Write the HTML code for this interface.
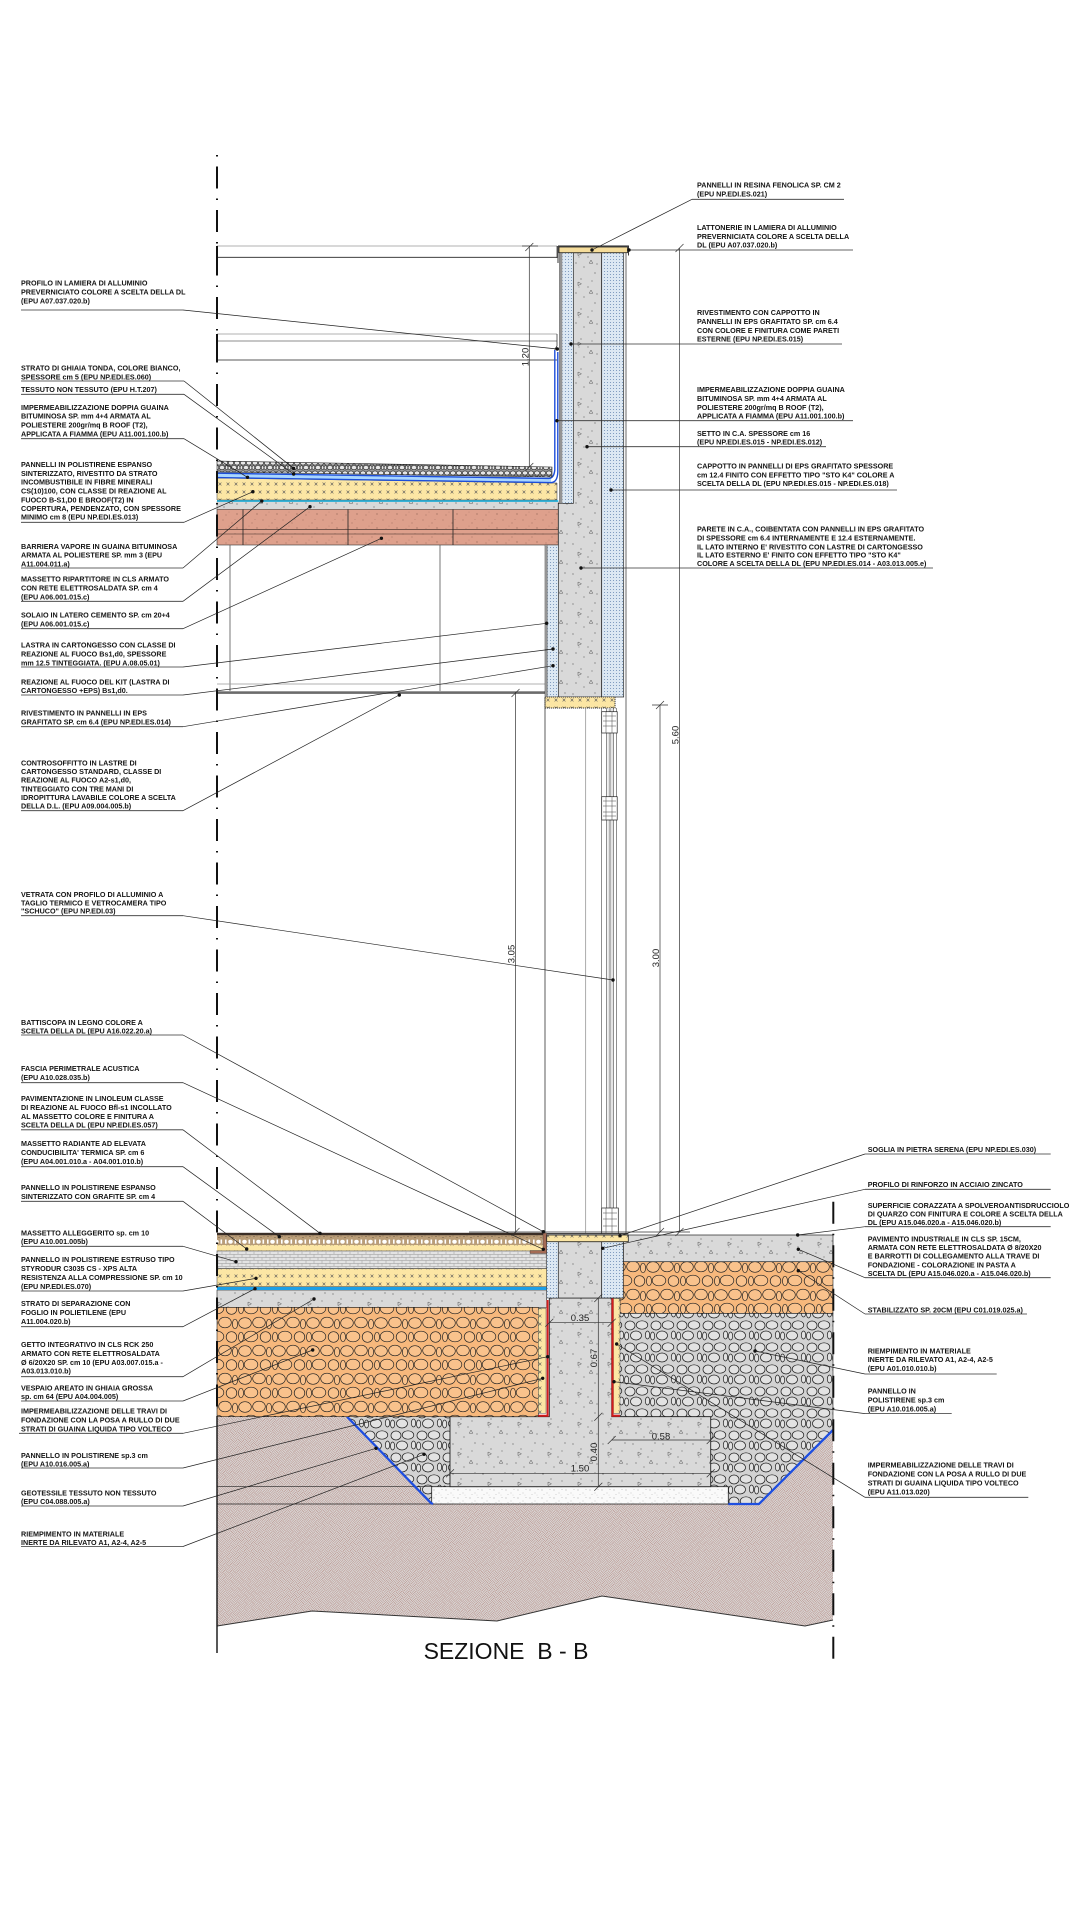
<!DOCTYPE html>
<html><head><meta charset="utf-8"><style>
html,body{margin:0;padding:0;background:#fff;}
svg{display:block;}
text{font-family:"Liberation Sans",Arial,sans-serif;}
.t{font-size:7.2px;font-weight:bold;fill:#141414;}
.d{font-size:9.5px;fill:#222;}
.ul{stroke:#333;stroke-width:.8;fill:none;}
.ld{stroke:#222;stroke-width:.7;fill:none;}
.ln{stroke:#222;stroke-width:.7;fill:none;}
</style></head><body>
<svg width="1080" height="1920" viewBox="0 0 1080 1920" xmlns="http://www.w3.org/2000/svg">
<defs>
<pattern id="soil" width="10" height="10" patternUnits="userSpaceOnUse" patternTransform="rotate(45)">
<rect width="10" height="10" fill="#dddddd"/>
<path d="M0 .8H5M0 2.5H5M0 4.2H5M5.8 0V5M7.5 0V5M9.2 0V5M.8 5V10M2.5 5V10M4.2 5V10M5 5.8H10M5 7.5H10M5 9.2H10" stroke="#a87065" stroke-width=".45"/>
</pattern>
<pattern id="conc" width="30" height="30" patternUnits="userSpaceOnUse">
<rect width="30" height="30" fill="#d9d9d9"/>
<g fill="#333"><circle cx="3" cy="4" r=".55"/><circle cx="11" cy="9" r=".5"/><circle cx="25" cy="3" r=".55"/><circle cx="18" cy="17" r=".5"/><circle cx="6" cy="23" r=".55"/><circle cx="27" cy="24" r=".5"/><circle cx="14" cy="27" r=".5"/><circle cx="22" cy="11" r=".45"/><circle cx="9" cy="17" r=".4"/></g>
<path d="M8 12l3.5 1.8-3.5 1.8zM21 20l-1.8 3.2h3.6z" fill="none" stroke="#555" stroke-width=".5"/>
</pattern>
<pattern id="eps" width="3" height="3" patternUnits="userSpaceOnUse"><rect width="3" height="3" fill="#dce8f3"/><circle cx="1.5" cy="1.5" r=".55" fill="#6b8bb3"/></pattern>
<pattern id="dd" width="2" height="2" patternUnits="userSpaceOnUse"><rect width="2" height="2" fill="#bbb"/><circle cx="1" cy="1" r=".6" fill="#333"/></pattern>
<pattern id="yx" width="8" height="8" patternUnits="userSpaceOnUse"><rect width="8" height="8" fill="#fce6a4"/><path d="M2.6 2.6l2.8 2.8M5.4 2.6l-2.8 2.8" stroke="#555" stroke-width=".6"/></pattern>
<pattern id="pink" width="20" height="14" patternUnits="userSpaceOnUse"><rect width="20" height="14" fill="#dea08c"/><g fill="#5a3a30"><circle cx="3" cy="2" r=".4"/><circle cx="12" cy="5" r=".4"/><circle cx="17" cy="10" r=".45"/><circle cx="6" cy="11" r=".4"/><circle cx="9" cy="8" r=".3"/><circle cx="15" cy="1.5" r=".3"/></g></pattern>
<pattern id="og" width="34" height="28" patternUnits="userSpaceOnUse">
<rect width="34" height="28" fill="#f7b87c"/>
<g fill="#f9c28c" stroke="#222" stroke-width=".7">
<ellipse cx="7" cy="7" rx="6.3" ry="5.3"/><ellipse cx="21" cy="6.5" rx="6.3" ry="5.3"/><ellipse cx="31" cy="8" rx="2.6" ry="4.8"/>
<ellipse cx="13" cy="20.5" rx="6.8" ry="5.3"/><ellipse cx="27.5" cy="21" rx="5.3" ry="5.3"/><ellipse cx="3" cy="21" rx="2.5" ry="4.8"/>
</g></pattern>
<pattern id="pg" width="26" height="22" patternUnits="userSpaceOnUse">
<rect width="26" height="22" fill="#d2d2d2"/>
<g fill="#e2e2e2" stroke="#1e1e1e" stroke-width=".7">
<ellipse cx="6" cy="5.5" rx="5" ry="4.5"/><ellipse cx="18" cy="5" rx="5.8" ry="4.2"/>
<ellipse cx="12" cy="15.5" rx="5.5" ry="4.5"/><ellipse cx="23.5" cy="15" rx="2.2" ry="4"/><ellipse cx="2.6" cy="16" rx="2.1" ry="4"/>
</g></pattern>
<pattern id="rg" width="12" height="10" patternUnits="userSpaceOnUse">
<rect width="12" height="10" fill="#9a9a9a"/>
<g fill="#e6e6e6" stroke="#222" stroke-width=".6">
<ellipse cx="3" cy="3" rx="2.7" ry="2.1"/><ellipse cx="9" cy="3" rx="2.7" ry="2.1"/><ellipse cx="6" cy="7.6" rx="2.7" ry="2.1"/><ellipse cx="1.4" cy="7.6" rx="1.3" ry="1.9"/><ellipse cx="10.6" cy="7.6" rx="1.3" ry="1.9"/>
</g></pattern>
<pattern id="xh" width="8" height="6" patternUnits="userSpaceOnUse"><rect width="8" height="6" fill="#e3e3e3"/><path d="M0 .5H8M0 3.5H8M2 .5V3.5M6 3.5V6.5" stroke="#8c8c8c" stroke-width=".45"/></pattern>
<pattern id="mg" width="12" height="8" patternUnits="userSpaceOnUse"><rect width="12" height="8" fill="#fafafa"/><g fill="#8a8a8a"><circle cx="2" cy="2" r=".45"/><circle cx="7" cy="5" r=".4"/><circle cx="10" cy="1.5" r=".4"/><circle cx="4" cy="6.5" r=".35"/><circle cx="9" cy="7" r=".3"/></g></pattern>
<pattern id="iol" x="0" y="1235" width="14" height="10" patternUnits="userSpaceOnUse">
<rect width="14" height="10" fill="#b99d78"/>
<g fill="#4a3a2a"><circle cx="2" cy="1.5" r=".45"/><circle cx="9" cy="2.5" r=".45"/><circle cx="5" cy="1" r=".35"/><circle cx="12" cy="1.2" r=".35"/></g>
<g fill="#fff"><rect x="1" y="4.5" width="1.6" height="4.2"/><ellipse cx="6.5" cy="6.7" rx="2.3" ry="2"/><rect x="10.5" y="4.5" width="1.6" height="4.2"/></g>
</pattern>
</defs>

<rect width="1080" height="1920" fill="#fff"/>

<!-- ===== SOIL & FOUNDATION ===== -->
<polygon points="217,1416.7 833,1416.7 833,1620 805,1626 602,1596 497,1621 312,1611 217,1626" fill="url(#soil)"/>
<polyline points="217,1626 312,1611 497,1621 602,1596 805,1626 833,1620" fill="none" stroke="#333" stroke-width="1"/>
<polygon points="347,1416.7 450,1416.7 450,1504 432,1504" fill="url(#pg)" stroke="#222" stroke-width=".6"/>
<polygon points="611.7,1313.3 833,1313.3 833,1430 759,1504 710.7,1504 710.7,1416.7 611.7,1416.7" fill="url(#pg)" stroke="#222" stroke-width=".6"/>
<rect x="431.7" y="1486.7" width="296.6" height="17.3" fill="url(#mg)" stroke="#222" stroke-width=".8"/>
<line x1="217" y1="1486.7" x2="431.7" y2="1486.7" class="ln"/>
<line x1="217" y1="1504" x2="431.7" y2="1504" class="ln"/>
<polygon points="549.3,1298 611.7,1298 611.7,1416.7 710.7,1416.7 710.7,1486.7 450,1486.7 450,1416.7 549.3,1416.7" fill="url(#conc)" stroke="#222" stroke-width=".9"/>
<polyline points="347,1416.7 431,1503 433,1504" fill="none" stroke="#1f4fe0" stroke-width="2.3"/>
<polyline points="728.3,1504 759,1504 833,1430" fill="none" stroke="#1f4fe0" stroke-width="2.3"/>

<rect x="217" y="1307.3" width="321.3" height="109.4" fill="url(#og)" stroke="#222" stroke-width=".6"/>
<rect x="620" y="1261.7" width="213" height="51.6" fill="url(#og)" stroke="#222" stroke-width=".6"/>
<rect x="623.3" y="1235" width="209.7" height="26.7" fill="url(#conc)" stroke="#222" stroke-width=".7"/>

<rect x="217" y="1290" width="329.7" height="17.3" fill="url(#conc)" stroke="#222" stroke-width=".6"/>
<rect x="217" y="1286.7" width="329.7" height="3.3" fill="#1e9fe6"/>
<rect x="217" y="1268.5" width="329.7" height="18.2" fill="url(#yx)" stroke="#333" stroke-width=".5"/>
<rect x="217" y="1250.7" width="329.7" height="17.8" fill="url(#xh)" stroke="#333" stroke-width=".5"/>
<rect x="217" y="1245" width="326" height="5.7" fill="url(#yx)"/>
<rect x="217" y="1235" width="326" height="10" fill="url(#iol)"/>
<rect x="217" y="1232.8" width="326" height="2.4" fill="#3a2e26"/>
<path d="M543 1233 H546.7 V1253.5 H530 V1250.5 H543 Z" fill="#a46b55" stroke="#333" stroke-width=".4"/>

<rect x="538.3" y="1308.3" width="7.7" height="105" fill="url(#yx)" stroke="#333" stroke-width=".4"/>
<path d="M547.6 1300 V1415.7 H538.3" fill="none" stroke="#d41d1d" stroke-width="2"/>
<rect x="613.5" y="1298.5" width="6.5" height="114.8" fill="url(#yx)" stroke="#333" stroke-width=".4"/>
<path d="M612.5 1298 V1415.7 H620" fill="none" stroke="#d41d1d" stroke-width="2"/>

<rect x="546.7" y="1241.7" width="11.6" height="56.3" fill="url(#eps)" stroke="#333" stroke-width=".5"/>
<rect x="558.3" y="1241.7" width="43.4" height="56.3" fill="url(#conc)" stroke="#222" stroke-width=".7"/>
<rect x="601.7" y="1241.7" width="21.6" height="56.3" fill="url(#eps)" stroke="#222" stroke-width=".7"/>
<rect x="546.7" y="1235" width="81.6" height="6.7" fill="url(#yx)" stroke="#222" stroke-width=".8"/>
<line x1="546.7" y1="1233.6" x2="628.3" y2="1233.6" stroke="#444" stroke-width="1.2"/>

<!-- ===== ROOF ===== -->
<line x1="217" y1="246" x2="557" y2="246" stroke="#999" stroke-width=".8"/>
<line x1="217" y1="257.3" x2="557" y2="257.3" stroke="#222" stroke-width=".8"/>
<line x1="217" y1="334" x2="557" y2="334" stroke="#999" stroke-width=".8"/>
<line x1="217" y1="341" x2="557" y2="341" stroke="#666" stroke-width=".7"/>
<line x1="217" y1="360" x2="557" y2="360" stroke="#222" stroke-width=".8"/>
<path d="M557 246V258M557 334V346L555 349V360" class="ln"/>
<path d="M217 246V259M217 334V361" stroke="#111" stroke-width="2"/>

<rect x="217" y="509.3" width="341.3" height="35.7" fill="url(#pink)" stroke="#333" stroke-width=".6"/>
<path d="M217 529.3H558.3M217 534H558.3" stroke="#3a2a25" stroke-width=".6"/>
<path d="M243 509.3V545M348 509.3V545M453 509.3V545" stroke="#222" stroke-width=".8"/>
<rect x="217" y="501.7" width="341.3" height="7.6" fill="url(#conc)" stroke="#444" stroke-width=".4"/>
<rect x="217" y="500" width="341.3" height="1.8" fill="#2fc6f2"/>
<polygon points="217,478 552,483 557,483 557,500 217,500" fill="url(#yx)" stroke="#333" stroke-width=".5"/>
<polygon points="217,472.5 551,477.6 551,483 217,478" fill="#a9d6ff"/>
<path d="M217 473.2 L549 478.4 Q554 478 554.8 470 V350" fill="none" stroke="#1d4ed8" stroke-width="1.4"/>
<path d="M217 477.6 L550 482.6 Q557.5 483 557.8 472 V352" fill="none" stroke="#1d4ed8" stroke-width="1.4"/>
<polygon points="217,461 552,467 552,477 217,472" fill="url(#rg)" stroke="#222" stroke-width=".6"/>

<path d="M230 545V691M440 545V691" stroke="#555" stroke-width=".8"/>
<line x1="217" y1="684" x2="545" y2="684" stroke="#999" stroke-width=".7"/>
<rect x="217" y="691.3" width="328" height="2.6" fill="#6b6b6b"/>

<!-- ===== WALL ===== -->
<polygon points="573.3,252.7 601.7,252.7 601.7,697 558.3,697 558.3,503.3 573.3,503.3" fill="url(#conc)" stroke="#222" stroke-width=".8"/>
<rect x="601.7" y="252.7" width="22" height="444.3" fill="url(#eps)" stroke="#222" stroke-width=".7"/>
<rect x="559.3" y="252.7" width="14" height="250.6" fill="url(#eps)" stroke="#333" stroke-width=".5"/>
<rect x="559.3" y="252.7" width="3.2" height="250.6" fill="url(#dd)"/>
<rect x="545" y="545" width="13.3" height="152" fill="url(#eps)" stroke="#333" stroke-width=".5"/>
<rect x="545" y="545" width="2.6" height="152" fill="url(#dd)"/>
<line x1="626" y1="252" x2="626" y2="1235" stroke="#444" stroke-width=".8"/>
<rect x="559" y="247" width="68.5" height="5.7" fill="#f5dc9a" stroke="#222" stroke-width=".8"/>
<path d="M558 246H628.5V255.5M558 246V263" fill="none" stroke="#222" stroke-width=".9"/>
<rect x="545" y="697" width="70" height="11" fill="url(#yx)" stroke="#333" stroke-width="1" stroke-dasharray="1.2 .8"/>

<line x1="545" y1="697" x2="545" y2="1233" stroke="#333" stroke-width=".8"/>
<line x1="585.7" y1="708" x2="585.7" y2="1233" stroke="#888" stroke-width=".7"/>
<rect x="607.5" y="708" width="5.8" height="500" fill="#e4e4e4"/>
<path d="M601.7 708V1233M606.7 708V1210M610 708V1210M613.3 708V1210M616.7 708V1233" stroke="#444" stroke-width=".6"/>
<g fill="#fff" stroke="#222" stroke-width=".7">
<rect x="601.7" y="711.7" width="15.5" height="21.3"/>
<rect x="601.7" y="796.7" width="15.5" height="23.3"/>
<rect x="601.7" y="1208" width="16.6" height="25.5"/>
</g>
<path d="M603 716h13M603 721h13M603 726h13M606 712v21M612 712v21M603 801h13M603 806h13M603 812h13M603 816h13M606 797v23M612 797v23M603 1213h14M603 1219h14M603 1226h14M606 1208v25M612 1208v25" stroke="#444" stroke-width=".5"/>

<!-- ===== AXES ===== -->
<line x1="217" y1="153" x2="217" y2="1416" stroke="#111" stroke-width="2" stroke-dasharray="22 10 1.5 10" stroke-dashoffset="30"/>
<line x1="217" y1="1416" x2="217" y2="1653" stroke="#111" stroke-width="1.4"/>
<line x1="833.3" y1="1201.7" x2="833.3" y2="1660" stroke="#111" stroke-width="2" stroke-dasharray="22 10 1.5 10"/>

<!-- ===== DIMENSIONS ===== -->
<g stroke="#333" stroke-width=".7" fill="none">
<path d="M529.3 246V467M515.5 692V1233M660 705V1232M679.5 248V1232"/>
<path d="M525.3 251l8-8M525.3 471l8-8M511.5 697l8-8M511.5 1236l8-8M656 709l8-8M656 1236l8-8M675.5 252l8-8M675.5 1236l8-8"/>
<path d="M522 246H538M652 705H668M469 1232H690"/>
<path d="M549.3 1322.7H611.7M598.3 1298V1486.7M611.7 1440H710.7M450 1473.3H710.7"/>
<path d="M545.3 1326.7l8-8M607.7 1326.7l8-8M594.3 1302l8-8M594.3 1420.7l8-8M594.3 1490.7l8-8M607.7 1444l8-8M706.7 1444l8-8M446 1477.3l8-8M706.7 1477.3l8-8"/>
</g>
<g class="d">
<text transform="translate(528.5,357) rotate(-90)" text-anchor="middle">1.20</text>
<text transform="translate(514.5,954) rotate(-90)" text-anchor="middle">3.05</text>
<text transform="translate(659,958) rotate(-90)" text-anchor="middle">3.00</text>
<text transform="translate(678.5,735) rotate(-90)" text-anchor="middle">5.60</text>
<text transform="translate(597,1358) rotate(-90)" text-anchor="middle">0.67</text>
<text transform="translate(597,1452) rotate(-90)" text-anchor="middle">0.40</text>
<text x="580" y="1321" text-anchor="middle">0.35</text>
<text x="661" y="1439.5" text-anchor="middle">0.58</text>
<text x="580" y="1471.5" text-anchor="middle">1.50</text>
</g>

<!-- ===== LEFT LABELS ===== -->
<g class="t">
<text x="21" y="285.3">PROFILO IN LAMIERA DI ALLUMINIO</text>
<text x="21" y="294.3">PREVERNICIATO COLORE A SCELTA DELLA DL</text>
<text x="21" y="303.3">(EPU A07.037.020.b)</text>
<text x="21" y="370.3">STRATO DI GHIAIA TONDA, COLORE BIANCO,</text>
<text x="21" y="379.3">SPESSORE cm 5 (EPU NP.EDI.ES.060)</text>
<text x="21" y="391.9">TESSUTO NON TESSUTO (EPU H.T.207)</text>
<text x="21" y="409.9">IMPERMEABILIZZAZIONE DOPPIA GUAINA</text>
<text x="21" y="418.6">BITUMINOSA SP. mm 4+4 ARMATA AL</text>
<text x="21" y="427.6">POLIESTERE 200gr/mq B ROOF (T2),</text>
<text x="21" y="436.6">APPLICATA A FIAMMA (EPU A11.001.100.b)</text>
<text x="21" y="466.9">PANNELLI IN POLISTIRENE ESPANSO</text>
<text x="21" y="475.9">SINTERIZZATO, RIVESTITO DA STRATO</text>
<text x="21" y="484.6">INCOMBUSTIBILE IN FIBRE MINERALI</text>
<text x="21" y="493.3">CS(10)100, CON CLASSE DI REAZIONE AL</text>
<text x="21" y="502.3">FUOCO B-S1,D0 E BROOF(T2) IN</text>
<text x="21" y="510.9">COPERTURA, PENDENZATO, CON SPESSORE</text>
<text x="21" y="519.6">MINIMO cm 8 (EPU NP.EDI.ES.013)</text>
<text x="21" y="548.9">BARRIERA VAPORE IN GUAINA BITUMINOSA</text>
<text x="21" y="557.6">ARMATA AL POLIESTERE SP. mm 3  (EPU</text>
<text x="21" y="566.3">A11.004.011.a)</text>
<text x="21" y="581.6">MASSETTO RIPARTITORE IN CLS ARMATO</text>
<text x="21" y="590.3">CON RETE ELETTROSALDATA SP. cm 4</text>
<text x="21" y="599.3">(EPU A06.001.015.c)</text>
<text x="21" y="617.6">SOLAIO IN LATERO CEMENTO SP. cm 20+4</text>
<text x="21" y="626.3">(EPU A06.001.015.c)</text>
<text x="21" y="647.6">LASTRA IN CARTONGESSO CON CLASSE DI</text>
<text x="21" y="656.3">REAZIONE AL FUOCO Bs1,d0, SPESSORE</text>
<text x="21" y="665.3">mm 12.5 TINTEGGIATA. (EPU A.08.05.01)</text>
<text x="21" y="684.3">REAZIONE AL FUOCO DEL KIT (LASTRA DI</text>
<text x="21" y="692.9">CARTONGESSO +EPS) Bs1,d0.</text>
<text x="21" y="715.3">RIVESTIMENTO IN PANNELLI IN EPS</text>
<text x="21" y="724.3">GRAFITATO SP. cm 6.4 (EPU NP.EDI.ES.014)</text>
<text x="21" y="765.3">CONTROSOFFITTO IN LASTRE DI</text>
<text x="21" y="773.9">CARTONGESSO STANDARD, CLASSE DI</text>
<text x="21" y="782.6">REAZIONE AL FUOCO A2-s1,d0,</text>
<text x="21" y="791.3">TINTEGGIATO CON TRE MANI DI</text>
<text x="21" y="799.9">IDROPITTURA LAVABILE COLORE A SCELTA</text>
<text x="21" y="808.3">DELLA D.L. (EPU A09.004.005.b)</text>
<text x="21" y="896.9">VETRATA CON PROFILO DI ALLUMINIO A</text>
<text x="21" y="905.3">TAGLIO TERMICO E VETROCAMERA TIPO</text>
<text x="21" y="913.6">"SCHUCO" (EPU NP.EDI.03)</text>
<text x="21" y="1024.9">BATTISCOPA IN LEGNO COLORE A</text>
<text x="21" y="1033.6">SCELTA DELLA DL (EPU A16.022.20.a)</text>
<text x="21" y="1070.9">FASCIA PERIMETRALE ACUSTICA</text>
<text x="21" y="1079.9">(EPU A10.028.035.b)</text>
<text x="21" y="1100.9">PAVIMENTAZIONE IN LINOLEUM CLASSE</text>
<text x="21" y="1109.9">DI REAZIONE AL FUOCO Bfl-s1 INCOLLATO</text>
<text x="21" y="1118.9">AL MASSETTO COLORE E FINITURA A</text>
<text x="21" y="1127.6">SCELTA DELLA DL (EPU NP.EDI.ES.057)</text>
<text x="21" y="1145.9">MASSETTO RADIANTE AD ELEVATA</text>
<text x="21" y="1154.9">CONDUCIBILITA' TERMICA SP. cm 6</text>
<text x="21" y="1163.9">(EPU A04.001.010.a - A04.001.010.b)</text>
<text x="21" y="1189.9">PANNELLO IN POLISTIRENE ESPANSO</text>
<text x="21" y="1198.9">SINTERIZZATO CON GRAFITE SP. cm 4</text>
<text x="21" y="1235.3">MASSETTO ALLEGGERITO sp. cm 10</text>
<text x="21" y="1244.1">(EPU A10.001.005b)</text>
<text x="21" y="1261.9">PANNELLO IN POLISTIRENE ESTRUSO TIPO</text>
<text x="21" y="1270.9">STYRODUR C3035 CS - XPS ALTA</text>
<text x="21" y="1279.9">RESISTENZA ALLA COMPRESSIONE SP. cm 10</text>
<text x="21" y="1288.9">(EPU NP.EDI.ES.070)</text>
<text x="21" y="1305.9">STRATO DI SEPARAZIONE CON</text>
<text x="21" y="1314.9">FOGLIO IN POLIETILENE (EPU</text>
<text x="21" y="1323.9">A11.004.020.b)</text>
<text x="21" y="1346.9">GETTO INTEGRATIVO IN CLS RCK 250</text>
<text x="21" y="1355.9">ARMATO CON RETE ELETTROSALDATA</text>
<text x="21" y="1364.9">Ø 6/20X20 SP. cm 10 (EPU A03.007.015.a -</text>
<text x="21" y="1373.3">A03.013.010.b)</text>
<text x="21" y="1390.3">VESPAIO AREATO  IN GHIAIA GROSSA</text>
<text x="21" y="1399.1">sp. cm 64 (EPU A04.004.005)</text>
<text x="21" y="1413.6">IMPERMEABILIZZAZIONE DELLE TRAVI DI</text>
<text x="21" y="1422.6">FONDAZIONE CON LA POSA A RULLO DI DUE</text>
<text x="21" y="1431.3">STRATI DI GUAINA LIQUIDA TIPO VOLTECO</text>
<text x="21" y="1458.1">PANNELLO IN POLISTIRENE sp.3 cm</text>
<text x="21" y="1466.3">(EPU A10.016.005.a)</text>
<text x="21" y="1495.3">GEOTESSILE TESSUTO NON TESSUTO</text>
<text x="21" y="1504">(EPU C04.088.005.a)</text>
<text x="21" y="1536.6">RIEMPIMENTO IN MATERIALE</text>
<text x="21" y="1545">INERTE DA RILEVATO A1, A2-4, A2-5</text>
</g>
<g class="ul">
<path d="M21 310H183M21 381H184M21 394.3H184M21 438.7H184M21 522.3H184M21 568H183M21 601.3H183M21 628.7H183M21 667H183M21 695H183M21 726.7H183M21 810.7H183M21 915.7H183M21 1035H183M21 1082.7H183M21 1129.8H183M21 1166.7H183M21 1201.3H183M21 1246.3H183M21 1291H183M21 1326.7H183M21 1376.7H183M21 1401H183M19 1433.3H183M21 1468H183M21 1506H183M21 1546.5H183"/>
</g>
<g class="ld">
<path d="M183 310L557.3 349M184 381L293.6 468.3M184 394.3L293.6 474M184 438.7L247.5 477.3M184 522.3L252.9 491.7M183 568L261.8 501M183 601.3L310 506.7M183 628.7L381.4 538.3M183 667L546.7 623.3M183 695L553 649M183 726.7L553 665.7M183 810.7L399.3 695M183 915.7L613 980M183 1035L543.3 1231.7M183 1082.7L543.3 1249.3M183 1129.8L320 1233.3M183 1166.7L279.3 1236.7M183 1201.3L246.7 1249M183 1246.3L236 1261.7M183 1291L256 1278.3M183 1326.7L255 1288.7M183 1376.7L314 1299M183 1401L312.7 1350M183 1433.3L547.7 1356.7M183 1468L542.7 1378.3M183 1506L376 1448.3M183 1546.5L424 1454.3"/>
</g>

<!-- ===== RIGHT LABELS (upper) ===== -->
<g class="t">
<text x="697" y="187.6">PANNELLI IN RESINA FENOLICA SP. CM 2</text>
<text x="697" y="196.6">(EPU NP.EDI.ES.021)</text>
<text x="697" y="229.9">LATTONERIE IN LAMIERA DI ALLUMINIO</text>
<text x="697" y="238.9">PREVERNICIATA COLORE A SCELTA DELLA</text>
<text x="697" y="247.7">DL (EPU A07.037.020.b)</text>
<text x="697" y="314.9">RIVESTIMENTO CON CAPPOTTO IN</text>
<text x="697" y="323.9">PANNELLI IN EPS GRAFITATO SP. cm 6.4</text>
<text x="697" y="332.9">CON COLORE E FINITURA COME PARETI</text>
<text x="697" y="341.3">ESTERNE (EPU NP.EDI.ES.015)</text>
<text x="697" y="391.9">IMPERMEABILIZZAZIONE DOPPIA GUAINA</text>
<text x="697" y="400.9">BITUMINOSA SP. mm 4+4 ARMATA AL</text>
<text x="697" y="409.9">POLIESTERE 200gr/mq B ROOF (T2),</text>
<text x="697" y="418.4">APPLICATA A FIAMMA  (EPU A11.001.100.b)</text>
<text x="697" y="435.9">SETTO IN C.A. SPESSORE cm 16</text>
<text x="697" y="444.7">(EPU NP.EDI.ES.015 - NP.EDI.ES.012)</text>
<text x="697" y="468.6">CAPPOTTO IN PANNELLI DI EPS GRAFITATO SPESSORE</text>
<text x="697" y="477.6">cm 12.4 FINITO  CON EFFETTO TIPO "STO K4" COLORE A</text>
<text x="697" y="486.1">SCELTA DELLA DL (EPU NP.EDI.ES.015 - NP.EDI.ES.018)</text>
<text x="697" y="531.6">PARETE IN C.A., COIBENTATA CON PANNELLI IN EPS GRAFITATO</text>
<text x="697" y="540.6">DI SPESSORE cm 6.4 INTERNAMENTE E 12.4 ESTERNAMENTE.</text>
<text x="697" y="549.3">IL LATO INTERNO E' RIVESTITO CON LASTRE DI CARTONGESSO</text>
<text x="697" y="557.6">IL LATO ESTERNO E' FINITO  CON EFFETTO TIPO "STO K4"</text>
<text x="697" y="566">COLORE A SCELTA DELLA DL  (EPU NP.EDI.ES.014 - A03.013.005.e)</text>
</g>
<g class="ul">
<path d="M692 199.3H844M629 250H853M571 344H842M557 420.7H853M587 446.7H826M611 490H897M581 568H933"/>
</g>
<path d="M692 199.3L592 250" class="ld"/>

<!-- ===== RIGHT LABELS (lower) ===== -->
<g class="t">
<text x="867.7" y="1151.9">SOGLIA IN PIETRA SERENA (EPU NP.EDI.ES.030)</text>
<text x="867.7" y="1186.9">PROFILO DI RINFORZO IN ACCIAIO ZINCATO</text>
<text x="867.7" y="1207.9">SUPERFICIE CORAZZATA A SPOLVEROANTISDRUCCIOLO</text>
<text x="867.7" y="1216.6">DI QUARZO CON FINITURA E COLORE A SCELTA DELLA</text>
<text x="867.7" y="1225">DL (EPU A15.046.020.a - A15.046.020.b)</text>
<text x="867.7" y="1241.3">PAVIMENTO INDUSTRIALE IN CLS SP. 15CM,</text>
<text x="867.7" y="1249.9">ARMATA CON RETE ELETTROSALDATA Ø 8/20X20</text>
<text x="867.7" y="1258.6">E BARROTTI DI COLLEGAMENTO ALLA TRAVE DI</text>
<text x="867.7" y="1267.3">FONDAZIONE - COLORAZIONE IN PASTA A</text>
<text x="867.7" y="1275.9">SCELTA DL (EPU A15.046.020.a - A15.046.020.b)</text>
<text x="867.7" y="1312.3">STABILIZZATO SP. 20CM (EPU C01.019.025.a)</text>
<text x="867.7" y="1353.6">RIEMPIMENTO IN MATERIALE</text>
<text x="867.7" y="1361.9">INERTE DA RILEVATO A1, A2-4, A2-5</text>
<text x="867.7" y="1370.9">(EPU A01.010.010.b)</text>
<text x="867.7" y="1393.6">PANNELLO IN</text>
<text x="867.7" y="1402.6">POLISTIRENE sp.3 cm</text>
<text x="867.7" y="1411.4">(EPU A10.016.005.a)</text>
<text x="867.7" y="1467.6">IMPERMEABILIZZAZIONE DELLE TRAVI DI</text>
<text x="867.7" y="1476.6">FONDAZIONE CON LA POSA A RULLO DI DUE</text>
<text x="867.7" y="1485.3">STRATI DI GUAINA LIQUIDA TIPO VOLTECO</text>
<text x="867.7" y="1494.3">(EPU A11.013.020)</text>
</g>
<g class="ul">
<path d="M865 1154H1050.7M865 1189.3H1050.7M865 1226.7H1050.7M865 1277.7H1050.7M865 1314H1027M865 1374H996.7M865 1413.6H951.7M865 1497.3H1028.3"/>
</g>
<g class="ld">
<path d="M865 1154L620 1235.7M865 1189.3L602.7 1248.3M865 1226.7L797.7 1235M865 1277.7L798.3 1249.3M865 1314L798.3 1270.7M865 1374L755 1351M865 1413.6L614 1381.7M865 1497.3L616.7 1344"/>
</g>

<!-- ===== DOTS ===== -->
<g fill="#111">
<circle cx="557.3" cy="349" r="1.7"/><circle cx="293.6" cy="468.3" r="1.7"/><circle cx="293.6" cy="474" r="1.7"/><circle cx="247.5" cy="477.3" r="1.7"/><circle cx="252.9" cy="491.7" r="1.7"/><circle cx="261.8" cy="501" r="1.7"/><circle cx="310" cy="506.7" r="1.7"/><circle cx="381.4" cy="538.3" r="1.7"/><circle cx="546.7" cy="623.3" r="1.7"/><circle cx="553" cy="649" r="1.7"/><circle cx="553" cy="665.7" r="1.7"/><circle cx="399.3" cy="695" r="1.7"/><circle cx="613" cy="980" r="1.7"/><circle cx="543.3" cy="1231.7" r="1.7"/><circle cx="543.3" cy="1249.3" r="1.7"/><circle cx="320" cy="1233.3" r="1.7"/><circle cx="279.3" cy="1236.7" r="1.7"/><circle cx="246.7" cy="1249" r="1.7"/><circle cx="236" cy="1261.7" r="1.7"/><circle cx="256" cy="1278.3" r="1.7"/><circle cx="255" cy="1288.7" r="1.7"/><circle cx="314" cy="1299" r="1.7"/><circle cx="312.7" cy="1350" r="1.7"/><circle cx="547.7" cy="1356.7" r="1.7"/><circle cx="542.7" cy="1378.3" r="1.7"/><circle cx="376" cy="1448.3" r="1.7"/><circle cx="424" cy="1454.3" r="1.7"/>
<circle cx="592" cy="250" r="1.7"/><circle cx="629" cy="250" r="1.7"/><circle cx="571" cy="344" r="1.7"/><circle cx="557" cy="420.7" r="1.7"/><circle cx="587" cy="446.7" r="1.7"/><circle cx="611" cy="490" r="1.7"/><circle cx="581" cy="568" r="1.7"/>
<circle cx="620" cy="1235.7" r="1.7"/><circle cx="602.7" cy="1248.3" r="1.7"/><circle cx="797.7" cy="1235" r="1.7"/><circle cx="798.3" cy="1249.3" r="1.7"/><circle cx="798.3" cy="1270.7" r="1.7"/><circle cx="755" cy="1351" r="1.7"/><circle cx="614" cy="1381.7" r="1.7"/><circle cx="616.7" cy="1344" r="1.7"/>
</g>

<!-- ===== TITLE ===== -->
<text x="506" y="1659" text-anchor="middle" style="font-size:23px;fill:#111;white-space:pre" xml:space="preserve">SEZIONE  B - B</text>
</svg>
</body></html>
